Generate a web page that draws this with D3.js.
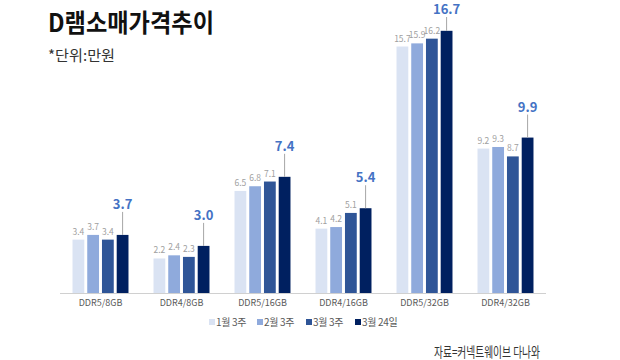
<!DOCTYPE html>
<html><head><meta charset="utf-8">
<script src="https://cdn.jsdelivr.net/npm/d3@7"></script>
<style>
body{margin:0;background:#fff;}
svg{display:block;font-family:"Noto Sans CJK KR","Noto Sans",sans-serif;}
</style></head>
<body>
<svg id="c" width="620" height="360"></svg>
<script>
const categories = ["DDR5/8GB","DDR4/8GB","DDR5/16GB","DDR4/16GB","DDR5/32GB","DDR4/32GB"];
const seriesNames = ["1월 3주","2월 3주","3월 3주","3월 24일"];
const jan3 = [3.4, 2.2, 6.5, 4.1, 15.7, 9.2];
const feb3 = [3.7, 2.4, 6.8, 4.2, 15.9, 9.3];
const mar3 = [3.4, 2.3, 7.1, 5.1, 16.2, 8.7];
const mar24 = [3.7, 3.0, 7.4, 5.4, 16.7, 9.9];
const colors = ["#dae3f3","#8faadc","#2f5597","#002060"];

const series = [jan3, feb3, mar3, mar24];
const svg = d3.select("#c");

const x0 = d3.scaleBand().domain(categories).range([60,546]).paddingInner(0.309).paddingOuter(0.1545);
const x1 = d3.scaleBand().domain(d3.range(4)).range([0, x0.bandwidth()]).paddingInner(0.2);
const y = d3.scaleLinear().domain([0,18]).range([293, 293-18*15.7]);

// title
svg.append("text").attr("x",48).attr("y",32).attr("font-size",25).attr("font-weight",700)
  .attr("textLength",166).attr("lengthAdjust","spacingAndGlyphs").attr("fill","#111").text("D램소매가격추이");
svg.append("text").attr("x",48).attr("y",61).attr("font-size",15).attr("font-weight",400)
  .attr("textLength",67).attr("lengthAdjust","spacingAndGlyphs").attr("fill","#333").text("*단위:만원");

const g = svg.append("g");
categories.forEach((cat, ci) => {
  series.forEach((s, si) => {
    const v = s[ci];
    const bx = x0(cat) + x1(si);
    const bw = x1.bandwidth();
    g.append("rect").attr("x",bx).attr("y",y(v)).attr("width",bw).attr("height",y(0)-y(v)).attr("fill",colors[si]);
    if (si < 3) {
      g.append("text").attr("x",bx+bw/2).attr("y",y(v)-5).attr("text-anchor","middle")
        .attr("font-size",8.5).attr("fill","#a0a0a0").text(v.toFixed(1));
    } else {
      const top = y(v);
      const cy = Math.max(top-31, 9);
      g.append("line").attr("x1",bx+bw/2).attr("x2",bx+bw/2).attr("y1",cy+8).attr("y2",top)
        .attr("stroke","#a6a6a6").attr("stroke-width",1);
      g.append("text").attr("x",bx+bw/2).attr("y",cy+5).attr("text-anchor","middle")
        .attr("font-size",13).attr("font-weight",700).attr("fill","#4472c4").text(v.toFixed(1));
    }
  });
});

// axis
const ax = svg.append("g").attr("transform","translate(0,293)")
  .call(d3.axisBottom(x0).tickSize(0).tickPadding(7));
ax.select(".domain").attr("stroke","#d0d0d0").attr("d","M60,0.5H546");
ax.selectAll("text").attr("font-size",9).attr("fill","#595959").attr("font-family","'Noto Sans CJK KR','Noto Sans',sans-serif");

// legend
const legX = [209, 257, 306, 355];
seriesNames.forEach((n,i)=>{
  svg.append("rect").attr("x",legX[i]).attr("y",319).attr("width",6).attr("height",6).attr("fill",colors[i]);
  svg.append("text").attr("x",legX[i]+7).attr("y",325.5).attr("font-size",10).attr("fill","#595959")
    .attr("letter-spacing",-0.3).text(n);
});

// source
svg.append("text").attr("x",434).attr("y",357).attr("font-size",14).attr("fill","#333")
  .attr("textLength",106).attr("lengthAdjust","spacingAndGlyphs").text("자료=커넥트웨이브 다나와");
</script>
</body></html>
